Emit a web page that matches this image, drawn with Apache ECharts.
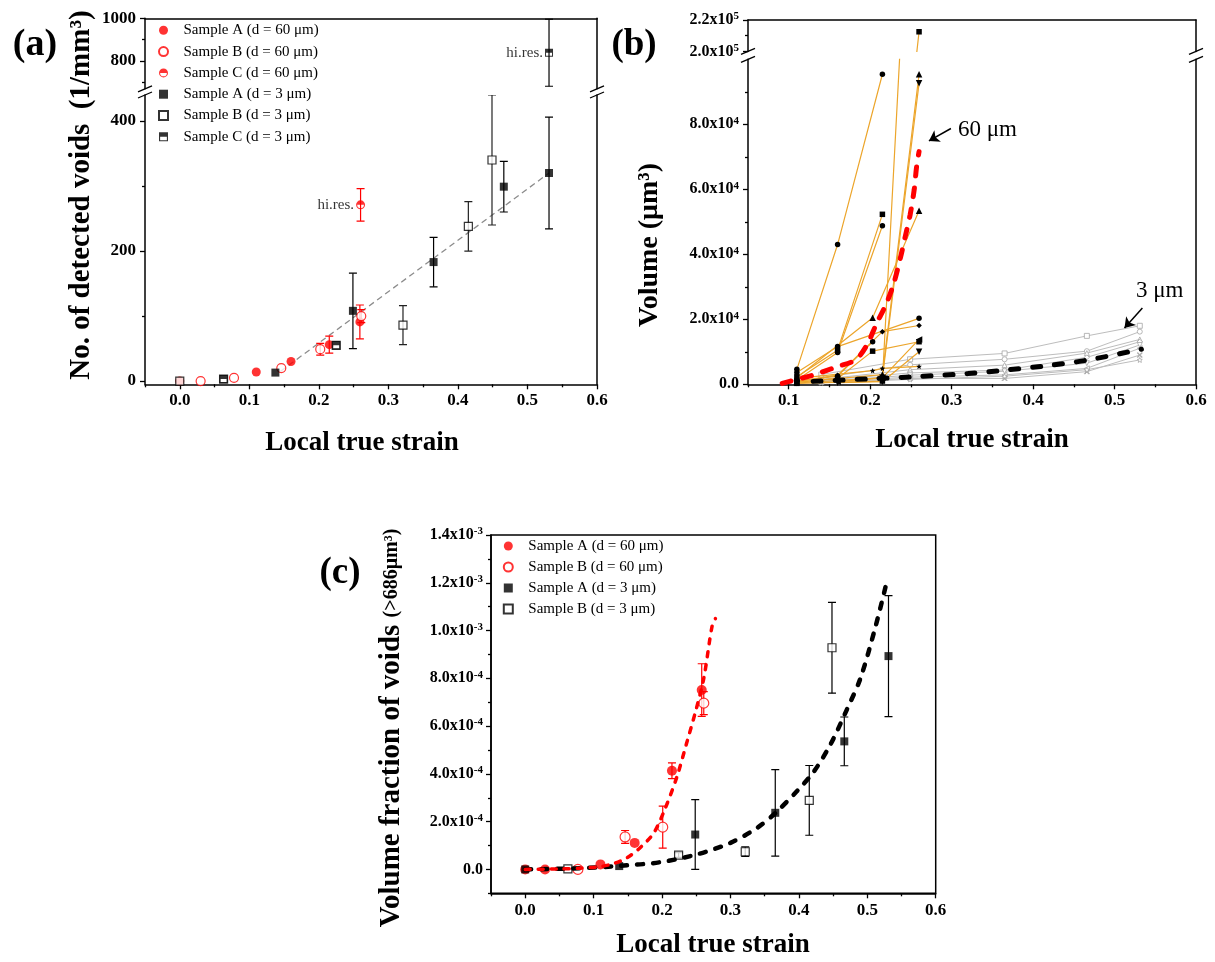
<!DOCTYPE html>
<html>
<head>
<meta charset="utf-8">
<script src="https://cdn.jsdelivr.net/npm/echarts@6/dist/echarts.min.js"></script>
<style>
  html, body { margin: 0; padding: 0; background: #fff; }
  #chart { width: 1215px; height: 962px; }
</style>
</head>
<body>
<div id="chart"></div>
<script>
// ---------------- (a) number of detected voids per mm^3 ----------------
const strainA60a = [0, 0.110, 0.160, 0.215, 0.259];
const voidsA60a  = [0, 14, 30, 56, 91];
const errA60a    = [0, 0, 0, 13, 26];
const strainB60a = [0.030, 0.078, 0.146, 0.202, 0.261];
const voidsB60a  = [0, 5, 20, 49, 100];
const errB60a    = [0, 0, 0, 9, 10];
const strainC60a = [0.260];
const voidsC60a  = [271];
const errC60a    = [25];
const labelsC60a = ['hi.res.'];
const strainA3a  = [0.1375, 0.249, 0.365, 0.466, 0.531];
const voidsA3a   = [13, 108, 183, 299, 320];
const errA3a     = [0, 58, 38, 39, 86];
const strainB3a  = [0, 0.063, 0.225, 0.321, 0.415, 0.449];
const voidsB3a   = [0, 3, 55, 86, 238, 340];
const errB3a     = [0, 0, 0, 30, 38, 100];
const strainC3a  = [0.063, 0.225, 0.531];
const voidsC3a   = [3, 55, 839];
const errC3a     = [0, 0, 157];
const labelsC3a  = ['', '', 'hi.res.'];
const trendStrainA = [0.145, 0.531];
const trendVoidsA  = [15, 320];

// ---------------- (b) volume of individual voids ----------------
const tracks60um = [
  [[0.110, 4600], [0.160, 43000], [0.215, 95400]],
  [[0.110, 3600], [0.160, 11600], [0.260, 20300]],
  [[0.110, 2300], [0.160, 10500], [0.215, 52300]],
  [[0.110, 1300], [0.160, 9800], [0.215, 48800]],
  [[0.110, 2000], [0.203, 20500], [0.260, 53400]],
  [[0.110, 900], [0.160, 2800], [0.215, 16200], [0.260, 18100]],
  [[0.110, 1000], [0.160, 2500], [0.203, 13100]],
  [[0.110, 600], [0.160, 1800], [0.203, 10200], [0.260, 13100]],
  [[0.160, 800], [0.215, 2000], [0.260, 13800]],
  [[0.160, 500], [0.215, 800], [0.260, 10000]],
  [[0.110, 300], [0.215, 1000], [0.260, 212500]],
  [[0.110, 700], [0.215, 3000], [0.260, 95400]],
  [[0.110, 400], [0.215, 2000], [0.260, 92600]],
  [[0.110, 1800], [0.203, 4200], [0.215, 4900], [0.260, 5500]]
];
const strain3um = [0.140, 0.249, 0.365, 0.466, 0.531];
const volumes3um = [
  [3000, 7700, 9500, 14900, 18000],
  [2000, 6000, 7700, 10200, 16200],
  [1500, 4500, 5900, 9600, 13800],
  [1200, 3500, 4400, 8300, 13100],
  [900, 2800, 4000, 6500, 12100],
  [800, 2200, 2900, 4900, 11100],
  [600, 1800, 1800, 3900, 9000],
  [500, 1500, 2500, 4500, 7500]
];
const fitStrain60b = [0.092, 0.110, 0.131, 0.159, 0.182, 0.196, 0.208, 0.220, 0.229, 0.237, 0.243, 0.249, 0.254, 0.257, 0.260];
const fitVol60b    = [300, 1500, 2900, 5400, 7500, 12100, 18800, 24900, 31100, 38800, 45400, 52100, 59800, 67000, 71600];
const fitStrain3b  = [0.130, 0.200, 0.260, 0.320, 0.367, 0.420, 0.468, 0.533];
const fitVol3b     = [900, 1700, 2400, 3300, 4400, 5800, 7500, 10800];

// ---------------- (c) volume fraction of voids ----------------
const strainA60c = [0, 0.029, 0.110, 0.160, 0.2145, 0.258];
const fracA60c   = [0, 0, 2.1e-5, 1.11e-4, 4.13e-4, 7.51e-4];
const errA60c    = [0, 0, 0, 0, 3.3e-5, 1.1e-4];
const strainB60c = [0.077, 0.146, 0.201, 0.261];
const fracB60c   = [0, 1.36e-4, 1.77e-4, 6.96e-4];
const errB60c    = [0, 2.7e-5, 8.8e-5, 4.8e-5];
const strainA3c  = [0, 0.1374, 0.2485, 0.3655, 0.4664, 0.531];
const fracA3c    = [0, 1.4e-5, 1.46e-4, 2.37e-4, 5.36e-4, 8.93e-4];
const errA3c     = [0, 0, 1.46e-4, 1.81e-4, 1.02e-4, 2.53e-4];
const strainB3c  = [0.0624, 0.2242, 0.3216, 0.4152, 0.4484];
const fracB3c    = [2e-6, 6.0e-5, 7.4e-5, 2.89e-4, 9.28e-4];
const errB3c     = [0, 1e-5, 2e-5, 1.46e-4, 1.9e-4];
const fitStrain60c = [0, 0.050, 0.080, 0.110, 0.130, 0.149, 0.168, 0.188, 0.205, 0.222, 0.236, 0.249, 0.261, 0.273, 0.278];
const fitFrac60c   = [0, 2e-6, 5e-6, 1.2e-5, 2.5e-5, 4.9e-5, 9.1e-5, 1.53e-4, 2.58e-4, 3.9e-4, 5.29e-4, 6.61e-4, 8.0e-4, 1.016e-3, 1.05e-3];
const fitStrain3c  = [0, 0.081, 0.139, 0.197, 0.251, 0.300, 0.339, 0.366, 0.397, 0.422, 0.446, 0.470, 0.490, 0.512, 0.529];
const fitFrac3c    = [0, 5e-6, 1.5e-5, 3e-5, 6.3e-5, 1.11e-4, 1.74e-4, 2.37e-4, 3.27e-4, 4.1e-4, 5.22e-4, 6.68e-4, 8.0e-4, 1.016e-3, 1.21e-3];

// ---------------- tick values ----------------
const strainTicks      = [0, 0.1, 0.2, 0.3, 0.4, 0.5, 0.6];
const strainMinorTicks = [-0.05, 0.05, 0.15, 0.25, 0.35, 0.45, 0.55];
const strainTicksB      = [0.1, 0.2, 0.3, 0.4, 0.5, 0.6];
const strainMinorTicksB = [0.05, 0.15, 0.25, 0.35, 0.45, 0.55];
const voidTicksLow  = [0, 200, 400];
const voidMinorLow  = [100, 300];
const voidTicksHigh = [800, 1000];
const voidMinorHigh = [700, 900];
const volTicksLow   = [0, 20000, 40000, 60000, 80000];
const volMinorLow   = [10000, 30000, 50000, 70000, 90000];
const volTicksHigh  = [200000, 220000];
const volMinorHigh  = [210000];
const fracTicks = [0, 2e-4, 4e-4, 6e-4, 8e-4, 1.0e-3, 1.2e-3, 1.4e-3];
const fracMinor = [-1e-4, 1e-4, 3e-4, 5e-4, 7e-4, 9e-4, 1.1e-3, 1.3e-3];

const legendNamesA = ['Sample A (d = 60 μm)', 'Sample B (d = 60 μm)', 'Sample C (d = 60 μm)',
                      'Sample A (d = 3 μm)', 'Sample B (d = 3 μm)', 'Sample C (d = 3 μm)'];
const legendNamesC = ['Sample A (d = 60 μm)', 'Sample B (d = 60 μm)', 'Sample A (d = 3 μm)', 'Sample B (d = 3 μm)'];

// ---------------- styling ----------------
const FONT = 'Liberation Serif';
const RED = '#ff0000', ORANGE = '#eca52b', GRAY = '#bdbdbd';
const SQUARE = 'path://M0,0H20V20H0Z';
const HALF_CIRCLE = 'path://M0,10A10,10,0,1,1,20,10A10,10,0,1,1,0,10ZM2.5,10A7.5,7.5,0,1,0,17.5,10A7.5,7.5,0,1,0,2.5,10ZM2.5,10A7.5,7.5,0,0,1,17.5,10Z';
const HALF_SQUARE = 'path://M0,0H20V20H0ZM2.5,2.5V17.5H17.5V2.5ZM2.5,2.5H17.5V10H2.5Z';
const STAR = 'path://M10,0L12.9,6.9L20,7.6L14.6,12.3L16.2,19.3L10,15.6L3.8,19.3L5.4,12.3L0,7.6L7.1,6.9Z';
const CROSS = 'path://M0,2L2,0L10,8L18,0L20,2L12,10L20,18L18,20L10,12L2,20L0,18L8,10Z';

const zip = (xs, ys) => xs.map((x, i) => [x, ys[i]]);
const zip3 = (xs, ys, es) => xs.map((x, i) => [x, ys[i], es[i]]);

const grid = [
  { left: 145, top: 18.3, width: 452, height: 70.5 },   // (a) upper segment
  { left: 145, top: 95, width: 452, height: 289.3 },    // (a) lower segment
  { left: 748, top: 20, width: 448, height: 31.4 },     // (b) upper segment
  { left: 748, top: 59.3, width: 448, height: 325 },    // (b) lower segment
  { left: 491, top: 535, width: 444.7, height: 358.3, show: true, borderColor: '#000', borderWidth: 1.5 } // (c)
];

const xAxis = [], yAxis = [];
const AXIS_LINE = { color: '#000', width: 1.5 };
function baseAxis(gridIndex, min, max, position) {
  return {
    type: 'value', gridIndex, min, max, position, silent: true,
    splitLine: { show: false },
    axisLine: { show: false, onZero: false },
    axisTick: { show: false },
    axisLabel: { show: false }
  };
}
function push(list, cfg) { list.push(cfg); return list.length - 1; }
function mainAxis(list, gridIndex, min, max, position, majors, minors, label) {
  const a = baseAxis(gridIndex, min, max, position);
  a.axisLine = { show: true, onZero: false, lineStyle: AXIS_LINE };
  a.axisTick = { show: true, length: 5, lineStyle: { color: '#000', width: 1.3 }, customValues: majors };
  a.axisLabel = Object.assign({
    show: true, customValues: majors, color: '#000', fontFamily: FONT,
    fontWeight: 'bold', fontSize: 17, margin: 9
  }, label || {});
  const idx = push(list, a);
  if (minors && minors.length) {
    const m = baseAxis(gridIndex, min, max, position);
    m.axisTick = { show: true, length: 3, lineStyle: { color: '#000', width: 1.3 }, customValues: minors };
    push(list, m);
  }
  return idx;
}
function frameAxis(list, gridIndex, min, max, position) {
  const a = baseAxis(gridIndex, min, max, position);
  a.axisLine = { show: true, onZero: false, lineStyle: AXIS_LINE };
  return push(list, a);
}

const SUP = { fontSize: 11, fontWeight: 'bold', fontFamily: FONT, verticalAlign: 'top', lineHeight: 10 };
const fmtPlain = v => String(v);
const fmtStrain = v => v.toFixed(1);
const fmtVolLow = v => v === 0 ? '0.0' : (v / 1e4).toFixed(1) + 'x10{s|4}';
const fmtVolHigh = v => (v / 1e5).toFixed(1) + 'x10{s|5}';
const fmtFrac = v => {
  if (Math.abs(v) < 1e-12) return '0.0';
  if (v >= 9.99e-4) return (v / 1e-3).toFixed(1) + 'x10{s|-3}';
  return (v / 1e-4).toFixed(1) + 'x10{s|-4}';
};

// (a) axes
const xA0 = frameAxis(xAxis, 0, -0.05, 0.6, 'top');
const yA0 = mainAxis(yAxis, 0, 670, 1000, 'left', voidTicksHigh, voidMinorHigh, { formatter: fmtPlain });
frameAxis(yAxis, 0, 670, 1000, 'right');
const xA1 = mainAxis(xAxis, 1, -0.05, 0.6, 'bottom', strainTicks, strainMinorTicks, { formatter: fmtStrain, margin: 8 });
const yA1 = mainAxis(yAxis, 1, -5, 440, 'left', voidTicksLow, voidMinorLow, { formatter: fmtPlain });
frameAxis(yAxis, 1, -5, 440, 'right');
// (b) axes
const xB0 = frameAxis(xAxis, 2, 0.05, 0.6, 'top');
const yB0 = mainAxis(yAxis, 2, 200000, 220000, 'left', volTicksHigh, volMinorHigh,
  { formatter: fmtVolHigh, fontSize: 16, lineHeight: 18, rich: { s: SUP } });
frameAxis(yAxis, 2, 200000, 220000, 'right');
const xB1 = mainAxis(xAxis, 3, 0.05, 0.6, 'bottom', strainTicksB, strainMinorTicksB, { formatter: fmtStrain, margin: 8 });
const yB1 = mainAxis(yAxis, 3, 0, 100000, 'left', volTicksLow, volMinorLow,
  { formatter: fmtVolLow, fontSize: 16, lineHeight: 18, rich: { s: SUP } });
frameAxis(yAxis, 3, 0, 100000, 'right');
// (c) axes
const xC = mainAxis(xAxis, 4, -0.05, 0.6, 'bottom', strainTicks, strainMinorTicks, { formatter: fmtStrain, margin: 9 });
const yC = mainAxis(yAxis, 4, -1e-4, 1.4e-3, 'left', fracTicks, fracMinor,
  { formatter: fmtFrac, fontSize: 16, lineHeight: 18, margin: 8, rich: { s: SUP } });

// ---------------- series builders ----------------
const series = [];
function errorBars(xi, yi, xs, ys, es, color) {
  series.push({
    type: 'custom', xAxisIndex: xi, yAxisIndex: yi, clip: true, z: 2, silent: true,
    data: zip3(xs, ys, es).filter(d => d[2] > 0),
    encode: { x: 0, y: 1 },
    renderItem(params, api) {
      const x = api.value(0), y = api.value(1), e = api.value(2);
      const p1 = api.coord([x, y + e]), p2 = api.coord([x, y - e]);
      const st = { stroke: color, lineWidth: 1.2 };
      return {
        type: 'group', children: [
          { type: 'line', shape: { x1: p1[0], y1: p1[1], x2: p2[0], y2: p2[1] }, style: st },
          { type: 'line', shape: { x1: p1[0] - 4, y1: p1[1], x2: p1[0] + 4, y2: p1[1] }, style: st },
          { type: 'line', shape: { x1: p2[0] - 4, y1: p2[1], x2: p2[0] + 4, y2: p2[1] }, style: st }
        ]
      };
    }
  });
}
function scatter(name, xi, yi, xs, ys, symbol, size, itemStyle, labels) {
  const s = {
    type: 'scatter', name, xAxisIndex: xi, yAxisIndex: yi, symbol, symbolSize: size,
    itemStyle, data: zip(xs, ys), z: 3, clip: true
  };
  if (labels) {
    s.label = {
      show: true, position: 'left', distance: 2, color: '#000', fontFamily: FONT, fontSize: 15,
      formatter: p => labels[p.dataIndex]
    };
  }
  series.push(s);
}

const filledRed  = { color: RED };
const openRed    = { color: '#fff', borderColor: RED, borderWidth: 1.2 };
const halfRed    = { color: RED };
const filledBlk  = { color: '#000' };
const openBlk    = { color: '#fff', borderColor: '#000', borderWidth: 1.2 };

// (a) both segments share the same series, each clipped to its own range
[[xA0, yA0], [xA1, yA1]].forEach(([xi, yi]) => {
  errorBars(xi, yi, strainA60a, voidsA60a, errA60a, RED);
  errorBars(xi, yi, strainB60a, voidsB60a, errB60a, RED);
  errorBars(xi, yi, strainC60a, voidsC60a, errC60a, RED);
  errorBars(xi, yi, strainA3a, voidsA3a, errA3a, '#000');
  errorBars(xi, yi, strainB3a, voidsB3a, errB3a, '#222');
  errorBars(xi, yi, strainC3a, voidsC3a, errC3a, '#000');
});
series.push({
  type: 'line', xAxisIndex: xA1, yAxisIndex: yA1, data: zip(trendStrainA, trendVoidsA),
  symbol: 'none', silent: true, z: 1, lineStyle: { color: '#8c8c8c', width: 1.3, type: [6, 4] }
});
[[xA0, yA0], [xA1, yA1]].forEach(([xi, yi]) => {
  scatter(legendNamesA[0], xi, yi, strainA60a, voidsA60a, 'circle', 9, filledRed);
  scatter(legendNamesA[1], xi, yi, strainB60a, voidsB60a, 'circle', 9, openRed);
  scatter(legendNamesA[2], xi, yi, strainC60a, voidsC60a, HALF_CIRCLE, 9, halfRed, labelsC60a);
  scatter(legendNamesA[3], xi, yi, strainA3a, voidsA3a, SQUARE, 8, filledBlk);
  scatter(legendNamesA[4], xi, yi, strainB3a, voidsB3a, SQUARE, 8, openBlk);
  scatter(legendNamesA[5], xi, yi, strainC3a, voidsC3a, HALF_SQUARE, 8, filledBlk, labelsC3a);
});

// (b) gray tracks (3 um), orange tracks (60 um), fits
const grayMarkers = [SQUARE, 'circle', 'triangle', 'diamond', 'triangle', 'triangle', CROSS, STAR];
const grayRotate  = [0, 0, 0, 0, 180, 90, 0, 0];
volumes3um.forEach((vals, i) => {
  series.push({
    type: 'line', xAxisIndex: xB1, yAxisIndex: yB1, data: zip(strain3um, vals), z: 2, silent: true,
    symbol: grayMarkers[i], symbolRotate: grayRotate[i], symbolSize: 5, showAllSymbol: true,
    itemStyle: { color: grayMarkers[i] === CROSS ? '#aaa' : '#fff', borderColor: '#a6a6a6', borderWidth: 0.8 },
    lineStyle: { color: GRAY, width: 1 }
  });
});
const orangeMarkers = ['circle', 'circle', SQUARE, 'circle', 'triangle', 'diamond', 'circle', SQUARE,
                       'triangle', 'triangle', SQUARE, 'triangle', 'triangle', STAR];
const orangeRotate  = [0, 0, 0, 0, 0, 0, 0, 0, 90, 180, 0, 0, 180, 0];
tracks60um.forEach((pts, i) => {
  const cfg = {
    type: 'line', data: pts, z: 3, silent: true,
    symbol: orangeMarkers[i], symbolRotate: orangeRotate[i],
    symbolSize: orangeMarkers[i] === 'triangle' ? 6.5 : 5.5, showAllSymbol: true,
    itemStyle: { color: '#000' },
    lineStyle: { color: ORANGE, width: 1.2 }
  };
  series.push(Object.assign({ xAxisIndex: xB1, yAxisIndex: yB1 }, cfg));
  if (pts.some(p => p[1] >= 200000)) {
    series.push(Object.assign({ xAxisIndex: xB0, yAxisIndex: yB0 }, cfg));
  }
});
series.push({
  type: 'line', xAxisIndex: xB1, yAxisIndex: yB1, data: zip(fitStrain3b, fitVol3b), z: 4,
  symbol: 'none', smooth: 0.3, silent: true,
  lineStyle: { color: '#000', width: 5, type: [8, 14], cap: 'round' },
  markLine: {
    silent: true, symbol: ['none', 'arrow'], symbolSize: 10, label: { show: false },
    lineStyle: { color: '#000', width: 1.5, type: 'solid' },
    data: [[{ coord: [0.5342, 23500] }, { coord: [0.5122, 17300] }]]
  }
});
series.push({
  type: 'line', xAxisIndex: xB1, yAxisIndex: yB1, data: zip(fitStrain60b, fitVol60b), z: 5,
  symbol: 'none', smooth: 0.3, silent: true,
  lineStyle: { color: RED, width: 5, type: [9, 12], cap: 'round' },
  markLine: {
    silent: true, symbol: ['none', 'arrow'], symbolSize: 10, label: { show: false },
    lineStyle: { color: '#000', width: 1.5, type: 'solid' },
    data: [[{ coord: [0.2991, 78700] }, { coord: [0.2721, 74900] }]]
  }
});

// (c) volume fraction
errorBars(xC, yC, strainA60c, fracA60c, errA60c, RED);
errorBars(xC, yC, strainB60c, fracB60c, errB60c, RED);
errorBars(xC, yC, strainA3c, fracA3c, errA3c, '#000');
errorBars(xC, yC, strainB3c, fracB3c, errB3c, '#000');
series.push({
  type: 'line', xAxisIndex: xC, yAxisIndex: yC, data: zip(fitStrain3c, fitFrac3c), z: 4,
  symbol: 'none', smooth: 0.3, silent: true,
  lineStyle: { color: '#000', width: 4.5, type: [6, 10], cap: 'round' }
});
series.push({
  type: 'line', xAxisIndex: xC, yAxisIndex: yC, data: zip(fitStrain60c, fitFrac60c), z: 4,
  symbol: 'none', smooth: 0.3, silent: true,
  lineStyle: { color: RED, width: 3.5, type: [5, 8], cap: 'round' }
});
scatter(legendNamesC[0], xC, yC, strainA60c, fracA60c, 'circle', 10, filledRed);
scatter(legendNamesC[1], xC, yC, strainB60c, fracB60c, 'circle', 10, openRed);
scatter(legendNamesC[2], xC, yC, strainA3c, fracA3c, SQUARE, 8, filledBlk);
scatter(legendNamesC[3], xC, yC, strainB3c, fracB3c, SQUARE, 8, openBlk);

// ---------------- titles, annotations, axis-break marks ----------------
const graphic = [];
function text(x, y, str, size, extra) {
  graphic.push(Object.assign({
    type: 'text', x, y, silent: true,
    style: { text: str, fontFamily: FONT, fontSize: size, fontWeight: 'bold', fill: '#000', align: 'center', verticalAlign: 'middle' }
  }, extra || {}));
}
text(35, 45, '(a)', 38);
text(634, 45, '(b)', 37);
text(340, 573, '(c)', 37);
text(82, 195, 'No. of detected voids  (1/mm³)', 29, { rotation: Math.PI / 2 });
text(362, 443, 'Local true strain', 27);
text(650, 245, 'Volume (μm³)', 28, { rotation: Math.PI / 2 });
text(972, 440, 'Local true strain', 27);
text(713, 945, 'Local true strain', 27);
graphic.push({
  type: 'text', x: 392, y: 728, rotation: Math.PI / 2, silent: true,
  style: {
    text: '{a|Volume fraction of voids }{b|(>686μm³)}', align: 'center', verticalAlign: 'middle', fill: '#000',
    rich: {
      a: { fontFamily: FONT, fontSize: 29, fontWeight: 'bold' },
      b: { fontFamily: FONT, fontSize: 20, fontWeight: 'bold' }
    }
  }
});
graphic.push({ type: 'text', x: 958, y: 130, silent: true,
  style: { text: '60 μm', fontFamily: FONT, fontSize: 23, fill: '#000', align: 'left', verticalAlign: 'middle' } });
graphic.push({ type: 'text', x: 1136, y: 291, silent: true,
  style: { text: '3 μm', fontFamily: FONT, fontSize: 23, fill: '#000', align: 'left', verticalAlign: 'middle' } });

function breakMark(x, yTop, yBottom) {
  const st = { stroke: '#000', lineWidth: 1.3 };
  graphic.push({ type: 'line', silent: true, shape: { x1: x - 7, y1: yTop + 3, x2: x + 7, y2: yTop - 3 }, style: st });
  graphic.push({ type: 'line', silent: true, shape: { x1: x - 7, y1: yBottom + 3, x2: x + 7, y2: yBottom - 3 }, style: st });
}
breakMark(145, 88.8, 95);
breakMark(597, 88.8, 95);
breakMark(748, 51.4, 59.3);
breakMark(1196, 51.4, 59.3);

const legendText = { fontFamily: FONT, fontSize: 15, color: '#000', lineHeight: 16 };
const option = {
  animation: false,
  backgroundColor: '#fff',
  grid, xAxis, yAxis, series, graphic,
  legend: [
    { data: legendNamesA, orient: 'vertical', left: 153, top: 17.3, itemWidth: 30, itemHeight: 9,
      itemGap: 5.3, selectedMode: false, textStyle: legendText },
    { data: legendNamesC, orient: 'vertical', left: 497.8, top: 533, itemWidth: 30, itemHeight: 9,
      itemGap: 5, selectedMode: false, textStyle: legendText }
  ]
};
const chart = echarts.init(document.getElementById('chart'));
chart.setOption(option);
</script>
</body>
</html>
